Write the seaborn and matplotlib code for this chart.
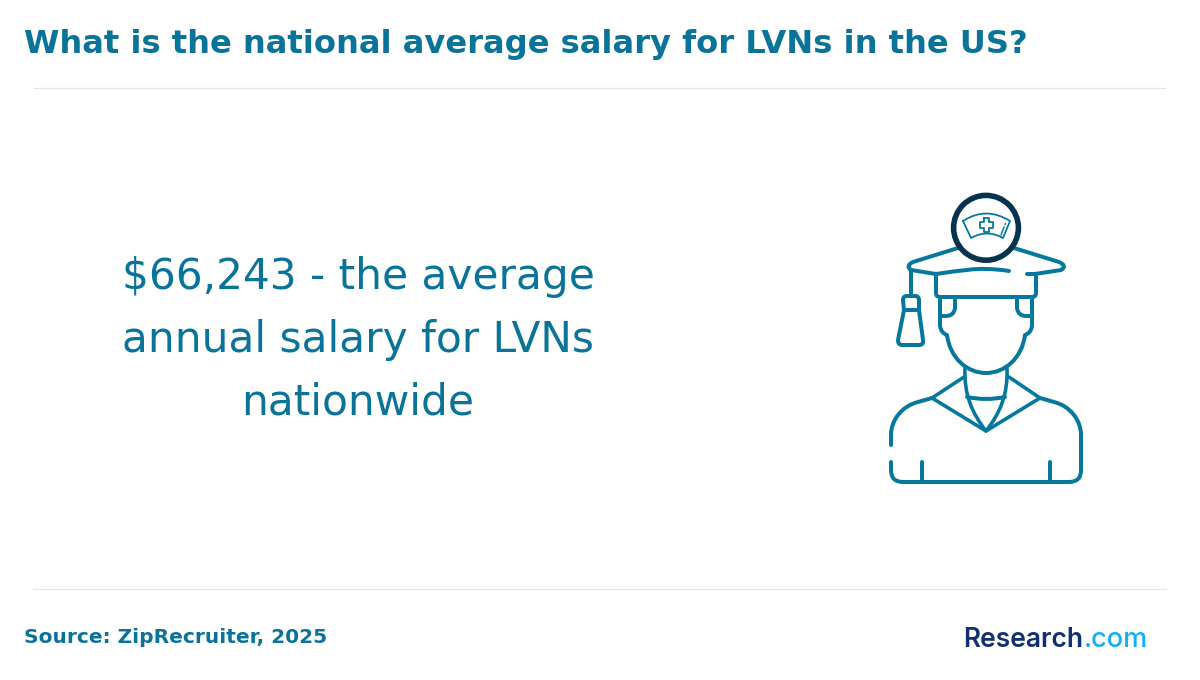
import matplotlib
matplotlib.use("Agg")
import matplotlib.pyplot as plt
from matplotlib.path import Path
from matplotlib.patches import PathPatch, Circle
import seaborn as sns

sns.set_theme(style="white")

title_text = "What is the national average salary for LVNs in the US?"
body_lines = ["$66,243 - the average", "annual salary for LVNs", "nationwide"]
source_text = "Source: ZipRecruiter, 2025"
logo_parts = ["Research", ".com"]

TEAL = "#0a7399"
ICON = "#06789e"
DARK = "#05324f"
RULE = "#e6e6e6"

fig = plt.figure(figsize=(12, 6.8), dpi=100, facecolor="white")
ax = fig.add_axes([0, 0, 1, 1])
ax.set_xlim(0, 1200)
ax.set_ylim(680, 0)
ax.axis("off")
sns.despine(ax=ax, left=True, bottom=True)

ax.plot([34, 1165], [87.8, 87.8], color=RULE, lw=0.9)
ax.plot([33, 1166], [588.8, 588.8], color=RULE, lw=0.9)

ax.text(24, 41.5, title_text, color=TEAL, fontsize=23.1, fontweight="bold",
        ha="left", va="center_baseline")
for yy, line in zip([273, 335.5, 398.3], body_lines):
    ax.text(358, yy, line, color=TEAL, fontsize=30.4, ha="center", va="center_baseline")
ax.text(24, 635.5, source_text, color=TEAL, fontsize=14.5, fontweight="bold",
        ha="left", va="center_baseline")

ax.text(963.5, 637, logo_parts[0], color="#12306f", fontsize=19, fontweight="semibold",
        family="Inter", ha="left", va="center_baseline")
ax.text(1084, 637, logo_parts[1], color="#12b0ee", fontsize=19.5, fontweight="medium",
        family="Inter", ha="left", va="center_baseline")


def stroke(cmds, color=ICON, w=4.0, z=2, cap="round"):
    verts, codes = [], []
    for c in cmds:
        if c[0] == "M":
            verts.append(c[1]); codes.append(Path.MOVETO)
        elif c[0] == "L":
            verts.append(c[1]); codes.append(Path.LINETO)
        elif c[0] == "Q":
            verts += [c[1], c[2]]; codes += [Path.CURVE3, Path.CURVE3]
        elif c[0] == "C":
            verts += [c[1], c[2], c[3]]; codes += [Path.CURVE4] * 3
    ax.add_patch(PathPatch(Path(verts, codes), fill=False, edgecolor=color,
                           lw=w * 0.72, capstyle=cap, joinstyle="round", zorder=z))


# mortarboard
stroke([("M", (958, 248)), ("L", (913, 262)), ("Q", (905, 266), (911, 270)),
        ("L", (936, 274)), ("Q", (975, 268), (985, 269)), ("Q", (998, 269), (1009, 271))])
stroke([("M", (1014, 248)), ("L", (1059, 262)), ("Q", (1068, 266), (1061, 270)),
        ("L", (1035, 274)), ("L", (1027, 274))])
stroke([("M", (936, 274)), ("L", (936, 293)), ("Q", (936, 297), (940, 297)),
        ("L", (1032, 297)), ("Q", (1036, 297), (1036, 293)), ("L", (1036, 274))])
# head
stroke([("M", (940, 297)), ("L", (940, 326)), ("Q", (941, 333), (947, 335)),
        ("C", (950, 358), (967, 373), (986, 373)), ("C", (1005, 373), (1022, 358), (1025, 335)),
        ("Q", (1031, 333), (1032, 326)), ("L", (1032, 297))])
stroke([("M", (955, 297)), ("L", (955, 308)), ("Q", (954, 316), (946, 316)), ("L", (940, 316))])
stroke([("M", (1017, 297)), ("L", (1017, 308)), ("Q", (1018, 316), (1026, 316)), ("L", (1032, 316))])
# tassel
stroke([("M", (911, 270)), ("L", (911, 296))])
stroke([("M", (904, 310)), ("L", (903, 300)), ("Q", (903, 296), (907, 296)), ("L", (915, 296)),
        ("Q", (919, 296), (919, 300)), ("L", (919, 310)), ("L", (904, 310))])
stroke([("M", (904, 310)), ("L", (898, 340)), ("Q", (898, 345), (902, 345)), ("L", (919, 345)),
        ("Q", (924, 345), (923, 340)), ("L", (919, 310))])
# neck and collar
stroke([("M", (965, 368)), ("C", (964, 395), (972, 413), (986, 431)),
        ("C", (1000, 413), (1008, 395), (1007, 368))], w=3.6)
stroke([("M", (967, 397)), ("Q", (986, 401), (1005, 397))])
stroke([("M", (964, 377)), ("L", (932, 398)), ("L", (986, 431)), ("L", (1040, 398)), ("L", (1009, 377))], w=3.6)
# shoulders and torso
stroke([("M", (932, 398)), ("L", (918, 402)), ("C", (902, 406), (891, 420), (891, 435)), ("L", (891, 445))])
stroke([("M", (891, 462)), ("L", (891, 470)), ("Q", (891, 482), (903, 482)), ("L", (1069, 482)),
        ("Q", (1081, 482), (1081, 470)), ("L", (1081, 435)),
        ("C", (1081, 420), (1070, 406), (1054, 402)), ("L", (1040, 398))])
stroke([("M", (922, 462)), ("L", (922, 482))])
stroke([("M", (1050, 462)), ("L", (1050, 482))])
# badge
ax.add_patch(Circle((986, 227.8), 32.4, facecolor="white", edgecolor=DARK, lw=4.0, zorder=3))
stroke([("M", (963, 221)), ("Q", (986, 206), (1010, 221)), ("L", (1003, 238)),
        ("Q", (987, 229), (971, 238)), ("L", (963, 221))], w=1.8, z=4)
stroke([("M", (984, 218)), ("L", (989, 218)), ("L", (989, 222)), ("L", (993, 222)), ("L", (993, 228)),
        ("L", (989, 228)), ("L", (989, 232)), ("L", (984, 232)), ("L", (984, 228)), ("L", (980, 228)),
        ("L", (980, 222)), ("L", (984, 222)), ("L", (984, 218))], w=1.8, z=4)
stroke([("M", (1001, 235)), ("L", (1004, 227))], w=1.5, z=4)
stroke([("M", (1005, 224.5)), ("L", (1005.5, 223.5))], w=1.5, z=4)

fig.savefig("out.png", dpi=100)
